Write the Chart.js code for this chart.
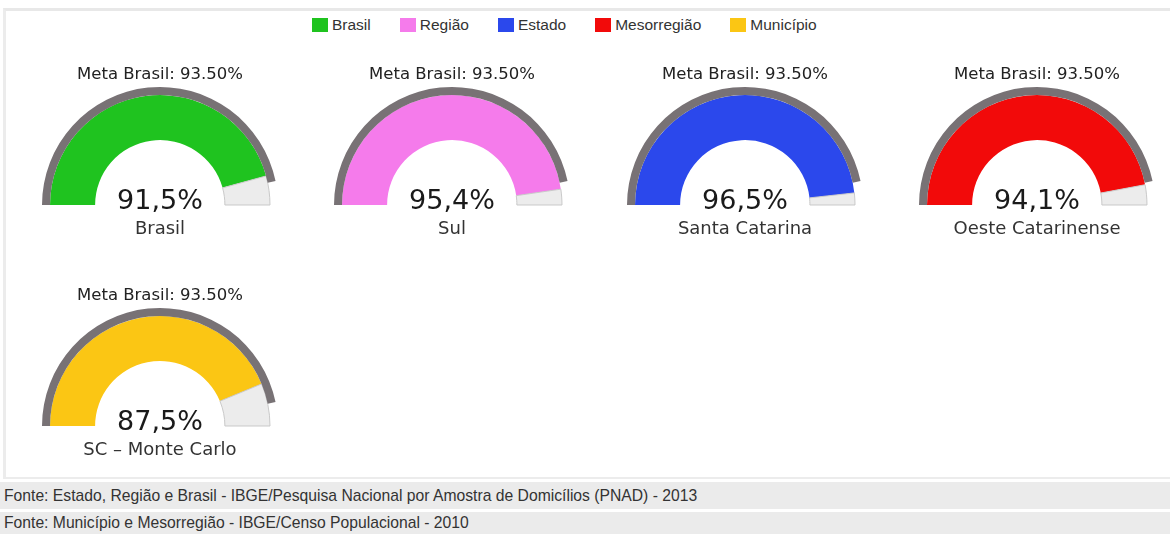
<!DOCTYPE html>
<html>
<head>
<meta charset="utf-8">
<script src="https://cdn.jsdelivr.net/npm/chart.js@4.4.1/dist/chart.umd.min.js"></script>
<style>
    body { margin: 0; background: #fff; width: 1170px; height: 534px; overflow: hidden; position: relative; }
    #panel { position: absolute; left: 3px; top: 8px; width: 1164px; height: 466px;
        border-top: 3px solid #e8e8e8; border-left: 3px solid #ececec; border-bottom: 2px solid #ececec; }
    #legend { position: absolute; left: 312px; top: 16px; font: 15.5px "Liberation Sans", Arial, sans-serif; color: #333; white-space: nowrap; }
    #legend span.item { display: inline-block; margin-right: 29px; }
    #legend span.box { display: inline-block; width: 16px; height: 14px; vertical-align: -2px; margin-right: 4px; }
    .gauge { position: absolute; width: 292px; height: 185px; }
    .fonte { position: absolute; left: 0; width: 1170px; background: #ebebeb; font: 15.7px "Liberation Sans", Arial, sans-serif; color: #333; padding-left: 4px; box-sizing: border-box; }
</style>
</head>
<body>
<div id="panel"></div>
<div id="legend"></div>
<canvas class="gauge" id="g0" width="292" height="185" style="left:14px;top:60px"></canvas>
<canvas class="gauge" id="g1" width="292" height="185" style="left:306px;top:60px"></canvas>
<canvas class="gauge" id="g2" width="292" height="185" style="left:599px;top:60px"></canvas>
<canvas class="gauge" id="g3" width="292" height="185" style="left:891px;top:60px"></canvas>
<canvas class="gauge" id="g4" width="292" height="185" style="left:14px;top:281px"></canvas>
<div class="fonte" style="top:482px;height:27px;line-height:27px">Fonte: Estado, Região e Brasil - IBGE/Pesquisa Nacional por Amostra de Domicílios (PNAD) - 2013</div>
<div class="fonte" style="top:512px;height:22px;line-height:21px">Fonte: Município e Mesorregião - IBGE/Censo Populacional - 2010</div>
<script>
// data
var legendNames = ["Brasil", "Região", "Estado", "Mesorregião", "Município"];
var gaugeLabels = ["Brasil", "Sul", "Santa Catarina", "Oeste Catarinense", "SC – Monte Carlo"];
var gaugeValues = [91.5, 95.4, 96.5, 94.1, 87.5];
var metaBrasil = 93.5;
var gaugeMax = 100;
var colors = ["#1fc31f", "#f57beb", "#2b48ec", "#f20a0a", "#fbc614"];

// legend
var legendDiv = document.getElementById("legend");
legendNames.forEach(function(name, i) {
    var item = document.createElement("span");
    item.className = "item";
    item.innerHTML = '<span class="box" style="background:' + colors[i] + '"></span>' + name;
    legendDiv.appendChild(item);
});

// text inside each gauge
var gaugeText = {
    id: "gaugeText",
    afterDraw: function(chart) {
        var ctx = chart.ctx;
        var arc = chart.getDatasetMeta(0).data[0];
        var cx = arc.x, cy = arc.y, r = arc.outerRadius;
        var idx = chart.options.gaugeIndex;
        ctx.save();
        ctx.textAlign = "center";
        ctx.textBaseline = "alphabetic";
        ctx.fillStyle = "#222";
        ctx.font = '16.5px "DejaVu Sans"';
        ctx.fillText("Meta Brasil: " + metaBrasil.toFixed(2) + "%", cx, cy - r - 8);
        ctx.fillStyle = "#1a1a1a";
        ctx.font = '27px "DejaVu Sans"';
        ctx.fillText(gaugeValues[idx].toFixed(1).replace(".", ",") + "%", cx, cy + 4);
        ctx.fillStyle = "#333";
        ctx.font = '18px "DejaVu Sans"';
        ctx.fillText(gaugeLabels[idx], cx, cy + 29);
        ctx.restore();
    }
};

function createGauge(i) {
    var ctx = document.getElementById("g" + i).getContext("2d");
    new Chart(ctx, {
        type: "doughnut",
        data: {
            labels: ["valor", "resto"],
            datasets: [{
                // meta Brasil (outer ring)
                data: [metaBrasil, gaugeMax - metaBrasil],
                backgroundColor: ["#787275", "rgba(0,0,0,0)"],
                borderWidth: 0,
                weight: 8,
            }, {
                data: [gaugeValues[i], gaugeMax - gaugeValues[i]],
                backgroundColor: [colors[i], "#ececec"],
                borderColor: [colors[i], "#c9c9c9"],
                borderWidth: [0, 1],
                weight: 45,
            }],
        },
        options: {
            gaugeIndex: i,
            responsive: false,
            animation: false,
            devicePixelRatio: 1,
            rotation: -90,
            circumference: 180,
            cutout: "55%",
            layout: { padding: { top: 27, bottom: 40, left: 28, right: 28 } },
            plugins: {
                legend: { display: false },
                tooltip: { enabled: false },
            },
            events: [],
        },
        plugins: [gaugeText],
    });
}

for (var i = 0; i < gaugeValues.length; i++) {
    createGauge(i);
}
</script>
</body>
</html>
